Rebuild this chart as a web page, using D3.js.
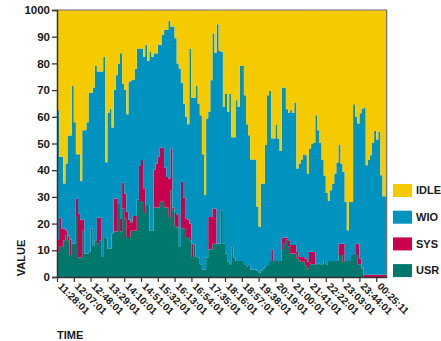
<!DOCTYPE html>
<html>
<head>
<meta charset="utf-8">
<script src="https://cdn.jsdelivr.net/npm/d3@7"></script>
<style>
  html, body { margin: 0; padding: 0; background: #fff; }
  svg text { font-family: "Liberation Sans", Arial, Helvetica, sans-serif; font-weight: bold; fill: #1a1a1a; }
</style>
</head>
<body>
<svg id="chart" width="441" height="341"></svg>
<script>
// CPU split per sample (percent)
const usr = [9.5,11.3,11.3,13.8,15.7,13.8,8.2,12.5,12.5,22.5,
  7.3,7.3,17.3,8.8,8.8,9.5,18.2,11.6,13.8,12.5,
  13.8,7.5,15,14.8,10.7,10.7,16.3,17,17,27.3,
  17,25.7,21.9,15,15,17.3,17.3,17.3,29,28.5,
  28.2,24,27,27,17.3,17.3,26,26,26,28.2,
  28.2,26,26,22.5,32.5,25,19,18.5,11.5,18.2,
  18.2,15,15,13.8,7.5,12.3,7.5,7.3,4.8,2.8,
  2.8,7.3,10.3,10.3,12.5,12.5,12.5,12.5,24.8,12.5,
  8.8,5.7,4.8,11.5,7.3,6,6,6,6,4.8,
  4,4.8,2.8,2.8,2.8,2.3,1.6,2.3,3.2,4,
  4.8,6,6,6,6,6,6,10,12.5,14,
  11.5,8.8,8.8,8.8,7,6.3,5.7,5.7,4.4,3.2,
  5,4.8,4.8,4.8,5,4.8,4.8,6,4.8,6,
  6,6,6,6,8.2,8.2,5.7,6,6,6,
  8.2,8.2,8.2,4.8,4.8,3.2,0,0,0,0,
  0,0,0,0,0,0,0];
const sys = [4.5,11,6.9,4.4,1.6,1.7,5.8,0,0,6.9,
  16.5,14.2,4.2,0,0,0,0,0,0,9.8,
  8.5,0,0,0,0,0,0,12.4,12.4,0,
  5,9.6,9.4,9.4,6.5,3.2,5.5,5.5,0,13.4,
  15.6,9.2,0,0,0,0,14.3,16.5,19,20.3,
  20.3,15,11.5,14.4,15.7,1,5,4.7,0,17.5,
  11.6,7,6.5,6.2,5,0,0,0,0,0,
  0,0,12.2,12.2,13.2,13.2,0,0,0,0,
  0,0,0,0,0,0,0,0,0,0,
  0,0,0,0,0,0,0,0,0,0,
  0,0,4.3,0,0,0,0,4.8,2.3,0.8,
  2.3,3.2,3.2,3.2,2.4,1.2,1.8,1.8,2.5,2.5,
  4.4,4.6,4.6,0,0,0,0,0,0,0,
  0,0,0,0,4.3,4.3,6.8,0,0,0,
  0,0,4.3,7.7,2.1,0.3,0.8,0.8,0.8,0.8,
  0.8,0.8,0.8,0.8,0.8,0.8,0.8];
const wio = [48.5,22.7,26.8,16.8,25.2,37.5,39,59,45.5,16.6,
  22.2,14.5,33.5,46.2,49.2,59.5,50.8,59.4,65.2,54.7,
  54.7,69.5,67.5,28.2,50.8,52.3,39.7,40.6,46.2,52.7,
  61.8,37.2,38.7,36.6,51.5,53.2,51.2,55.2,56.6,43.7,
  41.8,49.3,60,54,67.1,65.2,43.5,41.2,42,38.5,
  42.1,51.5,55,59.1,45.6,67.8,65.4,56.8,66.5,37,
  35,38,35.7,65.6,54.6,54.8,64,57.7,55.8,43.2,
  27.9,52.1,39.5,51.2,65.5,58.3,82.2,72.2,59.6,51.2,
  59.7,56.2,63.7,40.8,45,60.2,57.8,73,73,63.3,
  53.2,48.3,41.2,41.2,41.2,24,17.2,32.7,31.8,45.4,
  63.3,63.8,41.7,45.9,50.9,45.9,41.2,56.2,56.2,48,
  47.7,50.5,49.5,53.2,31.2,35,36.5,38.5,38.7,33,
  38.7,40.6,40.8,55.8,50,45.4,39,32,26.7,22.5,
  26.5,28.8,32.8,36.8,36.9,30,26.9,22.1,11.5,22.1,
  19.9,56.5,47.5,45,54.4,59.6,62.7,41.1,43,44.8,
  49.4,54,50.7,53.6,37.3,29.4,29.4];
const idle = [37.5,55,55,65,57.5,47,47,28.5,42,54,
  54,64,45,45,42,31,31,29,21,23,
  23,23,17.5,57,38.5,37,44,30,24.4,20,
  16.2,27.5,30,39,27,26.3,26,22,14.4,14.4,
  14.4,17.5,13,19,15.6,17.5,16.2,16.2,13,13,
  9.4,7.5,7.5,4,6.2,6.2,10.6,20,22,27.2,
  35.2,40,42.8,14.4,32.9,32.9,28.5,35,39.4,54,
  69.3,40.6,38,26.2,8.8,16,5.2,15.2,15.6,36.2,
  31.5,38.1,31.5,47.7,47.7,33.8,36.2,21,21,31.9,
  42.8,46.9,56,56,56,73.7,81.2,65,65,50.6,
  31.9,30.2,48,48.1,43.1,48.1,52.8,29,29,37.2,
  38.5,37.5,38.5,34.8,59.4,57.5,56,54,54.4,61.2,
  51.9,50,49.8,39.4,45,49.8,56.2,62,68.5,71.5,
  67.5,65.2,61.2,57.2,50.6,57.5,60.6,71.9,82.5,71.9,
  71.9,35.2,40,42.8,38.8,36.9,36.5,58.1,56.2,54.4,
  49.8,45.2,48.5,45.6,61.9,69.8,69.8];

const seriesKeys = ["usr", "sys", "wio", "idle"];
const seriesNames = ["USR", "SYS", "WIO", "IDLE"];
const seriesColors = ["#00786c", "#c8004d", "#0093bf", "#f5cb00"];

const xTickIndex = [0, 8, 16, 24, 32, 40, 48, 56, 64, 72, 80, 88, 96, 104, 112, 120, 128, 136, 144, 152];
const xTickLabels = ["11:28:01", "12:07:01", "12:48:01", "13:29:01", "14:10:01", "14:51:01", "15:32:01",
  "16:13:01", "16:54:01", "17:35:01", "18:16:01", "18:57:01", "19:38:01", "20:19:01", "21:00:01",
  "21:41:01", "22:22:01", "23:03:01", "23:44:01", "00:25:11"];
const yTickValues = [0, 10, 20, 30, 40, 50, 60, 70, 80, 90, 100];
const yTickLabels = ["0", "10", "20", "30", "40", "50", "60", "70", "80", "90", "1000"];

// Build the table for d3.stack
let rows = usr.map((u, i) => ({ i: i, usr: u, sys: sys[i], wio: wio[i], idle: idle[i] }));
let stacked = d3.stack().keys(seriesKeys)(rows);

let plotLeft = 57, plotRight = 386.7, plotTop = 10, plotBottom = 277;

let x = d3.scaleLinear().domain([0, rows.length]).range([plotLeft, plotRight]);
let y = d3.scaleLinear().domain([0, 100]).range([plotBottom, plotTop]);
let color = d3.scaleOrdinal().domain(seriesKeys).range(seriesColors);

let svg = d3.select("#chart");

svg.append("clipPath")
    .attr("id", "plotClip")
    .append("rect")
    .attr("x", plotLeft)
    .attr("y", plotTop)
    .attr("width", plotRight - plotLeft)
    .attr("height", plotBottom - plotTop);

// Each sample is a column: draw the stacked layers as step areas so columns have no seams
let area = d3.area()
    .curve(d3.curveStepAfter)
    .x((p) => x(p.i))
    .y0((p) => y(p.y0))
    .y1((p) => y(p.y1));

function layerPoints(layer) {
    let pts = layer.map((d) => ({ i: d.data.i, y0: d[0], y1: d[1] }));
    let last = pts[pts.length - 1];
    pts.push({ i: last.i + 1, y0: last.y0, y1: last.y1 });
    return pts;
}

svg.append("g")
    .attr("clip-path", "url(#plotClip)")
    .selectAll("path")
    .data(stacked)
    .enter()
    .append("path")
    .attr("fill", (layer) => color(layer.key))
    .attr("d", (layer) => area(layerPoints(layer)));

// Frame on top and right
svg.append("path")
    .attr("d", `M${plotLeft},${plotTop}H${plotRight}V${plotBottom}`)
    .attr("fill", "none")
    .attr("stroke", "#6e6e6e")
    .attr("stroke-width", 1.2);

// Y axis
let yAxis = svg.append("g")
    .attr("transform", `translate(${plotLeft},0)`)
    .call(d3.axisLeft(y).tickValues(yTickValues).tickFormat((d, i) => yTickLabels[i]).tickSize(5).tickPadding(2));
yAxis.select(".domain").attr("stroke", "#333").attr("stroke-width", 1.5);
yAxis.selectAll(".tick line").attr("stroke", "#333").attr("stroke-width", 1.3);
yAxis.selectAll(".tick text").style("font-size", "11.5px").attr("fill", "#1a1a1a");

// X axis
let xAxis = svg.append("g")
    .attr("transform", `translate(0,${plotBottom})`)
    .call(d3.axisBottom(x).tickValues(xTickIndex).tickFormat((d, i) => xTickLabels[i]).tickSize(5).tickSizeOuter(0));
xAxis.select(".domain").attr("stroke", "#333").attr("stroke-width", 1.5);
xAxis.selectAll(".tick line").attr("stroke", "#333").attr("stroke-width", 1.2);
xAxis.selectAll(".tick text")
    .style("font-size", "10px")
    .attr("fill", "#1a1a1a")
    .attr("text-anchor", "start")
    .attr("x", 0)
    .attr("y", 0)
    .attr("dy", 0)
    .attr("transform", "translate(0,10) rotate(45)");

// Axis titles
svg.append("text")
    .attr("transform", "translate(25,258) rotate(-90)")
    .attr("text-anchor", "middle")
    .style("font-size", "11px")
    .text("VALUE");

svg.append("text")
    .attr("x", 57)
    .attr("y", 339)
    .style("font-size", "11px")
    .text("TIME");

// Legend, top to bottom IDLE, WIO, SYS, USR
let legendKeys = seriesKeys.slice().reverse();
let legend = svg.append("g")
    .selectAll("g")
    .data(legendKeys)
    .enter()
    .append("g")
    .attr("transform", (key, i) => `translate(393,${184 + i * 26.7})`);

legend.append("rect")
    .attr("width", 19)
    .attr("height", 13)
    .attr("fill", (key) => color(key));

legend.append("text")
    .attr("x", 23)
    .attr("y", 6.5)
    .attr("dy", "0.35em")
    .style("font-size", "11px")
    .text((key) => seriesNames[seriesKeys.indexOf(key)]);
</script>
</body>
</html>
